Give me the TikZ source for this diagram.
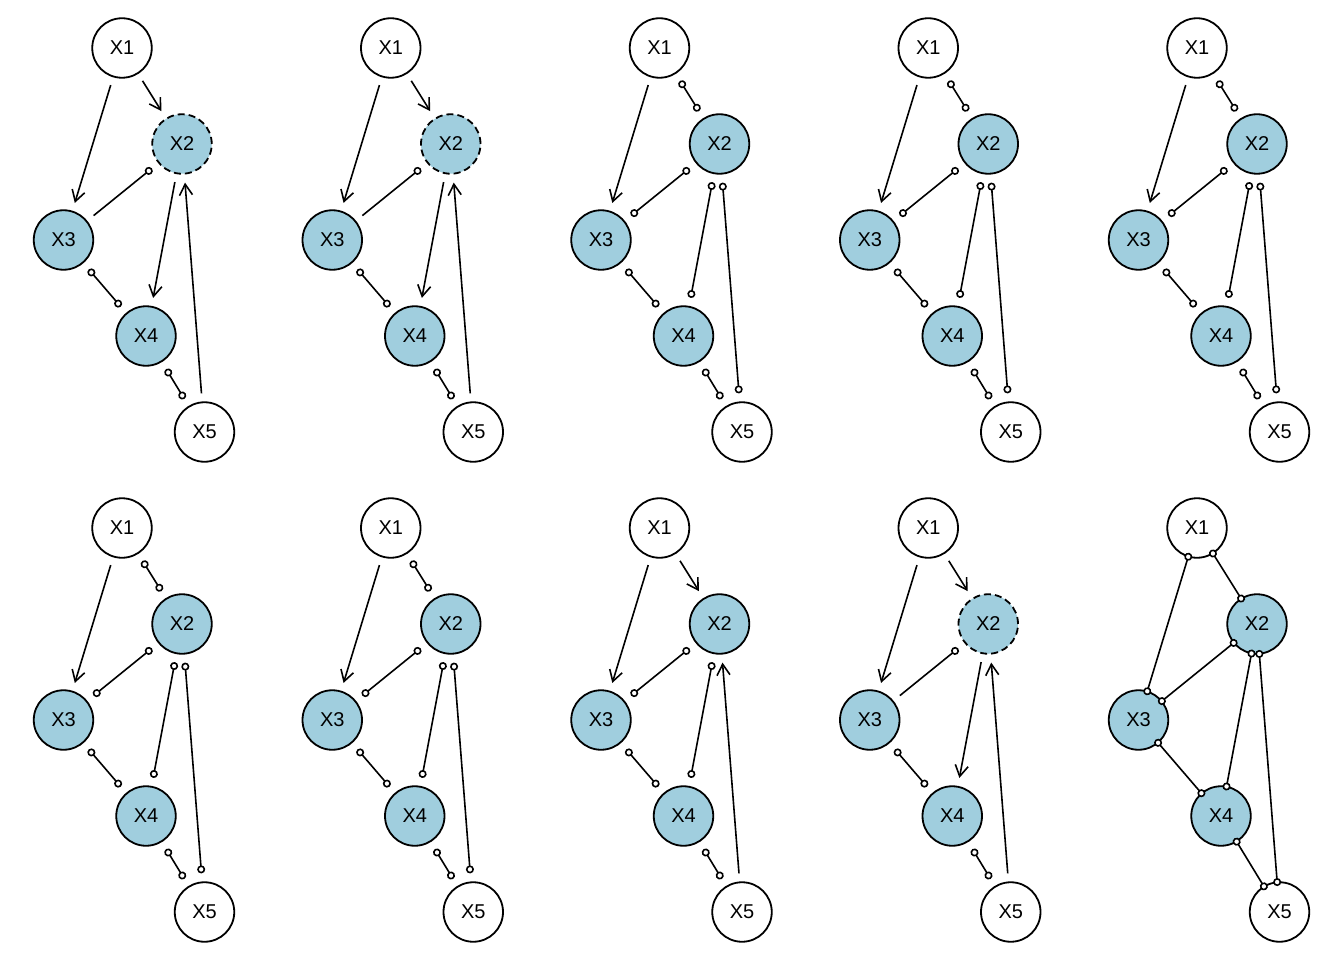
\documentclass[tikz,border=0pt]{standalone}
\usepackage{fontspec}
\setmainfont{Liberation Sans}
\usetikzlibrary{arrows.meta}
\definecolor{nodeblue}{RGB}{160,206,222}
\tikzset{
  ring/.tip={Circle[length=8pt,width=8pt,fill=white]},
  barb/.tip={Straight Barb[length=11pt,width=13pt]},
  var/.style={circle, draw, line width=1.8pt, minimum size=59.5pt,
    inner sep=0pt, outer sep=9pt, font=\fontsize{20}{22}\selectfont},
  obs/.style={var, fill=nodeblue},
  hid/.style={dash pattern=on 7pt off 4pt},
  link/.style={line width=1.6pt},
  pagnode/.style={outer sep=0pt},
  paglink/.style={link, shorten >=-3.7pt, shorten <=-3.7pt},
}
% the five variables of one graph; #1 = extra style of X2, #2 = extra style of all
\newcommand\graphnodes[2]{%
  \node[var,#2] (X1) at (122,48) {X1};
  \node[obs,#2,#1] (X2) at (182,144) {X2};
  \node[obs,#2] (X3) at (63.5,240) {X3};
  \node[obs,#2] (X4) at (146,336) {X4};
  \node[var,#2] (X5) at (204.5,432) {X5};
}
% graph with X2 as a collider of X1 and X5
\newcommand\edgesA{%
  \draw[link,-barb] (X1) -- (X3);
  \draw[link,-barb] (X1) -- (X2);
  \draw[link,-ring] (X3) -- (X2);
  \draw[link,ring-ring] (X3) -- (X4);
  \draw[link,-barb] (X2) -- (X4);
  \draw[link,-barb] (X5) -- (X2);
  \draw[link,ring-ring] (X4) -- (X5);
}
% graph with only X1 -> X3 oriented
\newcommand\edgesB{%
  \draw[link,-barb] (X1) -- (X3);
  \draw[link,ring-ring] (X1) -- (X2);
  \draw[link,ring-ring] (X2) -- (X3);
  \draw[link,ring-ring] (X3) -- (X4);
  \draw[link,ring-ring] (X2) -- (X4);
  \draw[link,ring-ring] (X2) -- (X5);
  \draw[link,ring-ring] (X4) -- (X5);
}
% graph with X1 -> X2 <- X5
\newcommand\edgesC{%
  \draw[link,-barb] (X1) -- (X3);
  \draw[link,-barb] (X1) -- (X2);
  \draw[link,ring-ring] (X2) -- (X3);
  \draw[link,ring-ring] (X3) -- (X4);
  \draw[link,ring-ring] (X2) -- (X4);
  \draw[link,-barb] (X5) -- (X2);
  \draw[link,ring-ring] (X4) -- (X5);
}
% skeleton with circle marks on every end
\newcommand\edgesD{%
  \draw[paglink,ring-ring] (X1) -- (X3);
  \draw[paglink,ring-ring] (X1) -- (X2);
  \draw[paglink,ring-ring] (X2) -- (X3);
  \draw[paglink,ring-ring] (X3) -- (X4);
  \draw[paglink,ring-ring] (X2) -- (X4);
  \draw[paglink,ring-ring] (X2) -- (X5);
  \draw[paglink,ring-ring] (X4) -- (X5);
}
\begin{document}
\begin{tikzpicture}[x=1pt,y=-1pt]
  \useasboundingbox[fill=white] (0,0) rectangle (1344,960);
  % top row
  \begin{scope}[name prefix=a1-]
    \graphnodes{hid}{} \edgesA
  \end{scope}
  \begin{scope}[shift={(268.75,0)},name prefix=a2-]
    \graphnodes{hid}{} \edgesA
  \end{scope}
  \begin{scope}[shift={(537.5,0)},name prefix=a3-]
    \graphnodes{}{} \edgesB
  \end{scope}
  \begin{scope}[shift={(806.25,0)},name prefix=a4-]
    \graphnodes{}{} \edgesB
  \end{scope}
  \begin{scope}[shift={(1075,0)},name prefix=a5-]
    \graphnodes{}{} \edgesB
  \end{scope}
  % bottom row
  \begin{scope}[shift={(0,480)},name prefix=b1-]
    \graphnodes{}{} \edgesB
  \end{scope}
  \begin{scope}[shift={(268.75,480)},name prefix=b2-]
    \graphnodes{}{} \edgesB
  \end{scope}
  \begin{scope}[shift={(537.5,480)},name prefix=b3-]
    \graphnodes{}{} \edgesC
  \end{scope}
  \begin{scope}[shift={(806.25,480)},name prefix=b4-]
    \graphnodes{hid}{} \edgesA
  \end{scope}
  \begin{scope}[shift={(1075,480)},name prefix=b5-]
    \graphnodes{}{pagnode} \edgesD
  \end{scope}
\end{tikzpicture}
\end{document}
